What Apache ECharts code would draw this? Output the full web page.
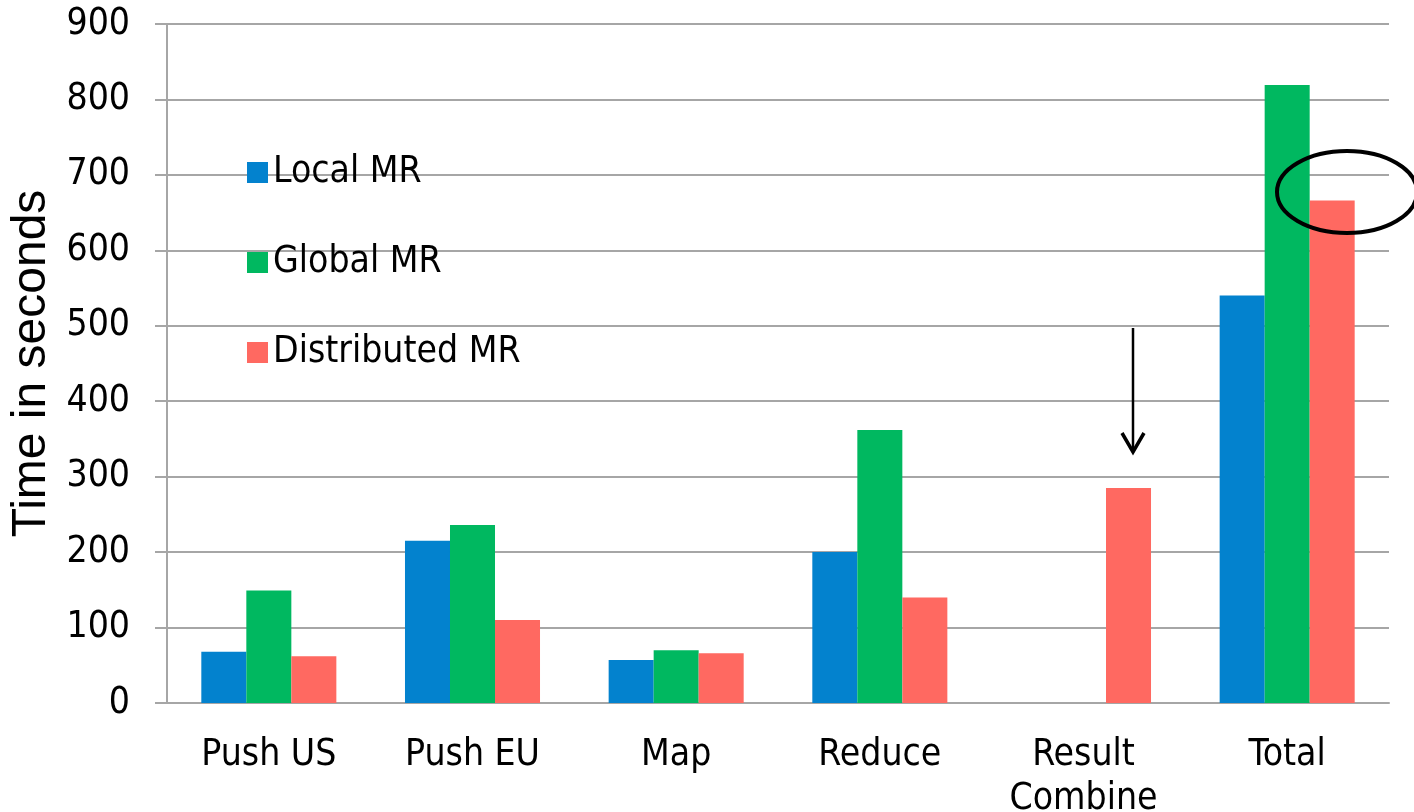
<!DOCTYPE html>
<html>
<head>
<meta charset="utf-8">
<title>Time in seconds by phase</title>
<script src="https://cdn.jsdelivr.net/npm/echarts@6/dist/echarts.min.js"></script>
<style>
  html, body { margin: 0; padding: 0; background: #ffffff; }
  #chart { width: 1414px; height: 812px; }
</style>
</head>
<body>
<div id="chart"></div>
<script>
// Phases on the category axis
const categories = ['Push US', 'Push EU', 'Map', 'Reduce', 'Result\nCombine', 'Total'];

// Seconds spent in each phase, per MapReduce variant
const localMR       = [68, 215, 57, 200, null, 540];
const globalMR      = [149, 236, 70, 362, null, 819];
const distributedMR = [62, 110, 66, 140, 285, 666];

const seriesNames = ['Local MR', 'Global MR', 'Distributed MR'];
const seriesColors = ['#0382CE', '#00B860', '#FF6961'];

const FONT = '"DejaVu Sans Condensed", "DejaVu Sans", Tahoma, sans-serif';

const chart = echarts.init(document.getElementById('chart'), null, { renderer: 'canvas' });

const makeBar = (name, data, color) => ({
  name: name,
  type: 'bar',
  data: data,
  barGap: '0%',
  barCategoryGap: '33.7%',
  itemStyle: { color: color },
  emphasis: { disabled: true },
  animation: false
});

chart.setOption({
  backgroundColor: '#ffffff',
  animation: false,
  grid: { left: 167, right: 25, top: 24, bottom: 109, containLabel: false, outerBoundsMode: 'none' },
  legend: {
    orient: 'vertical',
    left: 242,
    top: 149,
    itemWidth: 21,
    itemHeight: 21,
    itemGap: 53,
    icon: 'rect',
    selectedMode: false,
    data: seriesNames,
    textStyle: { fontFamily: FONT, fontSize: 37, color: '#000000' }
  },
  xAxis: {
    type: 'category',
    data: categories,
    axisLine: { show: true, lineStyle: { color: '#a6a6a6', width: 2 } },
    axisTick: { show: false },
    axisLabel: {
      interval: 0,
      margin: 30,
      fontFamily: FONT,
      fontSize: 37,
      lineHeight: 44,
      color: '#000000'
    }
  },
  yAxis: {
    type: 'value',
    min: 0,
    max: 900,
    interval: 100,
    name: 'Time in seconds',
    nameLocation: 'middle',
    nameRotate: 90,
    nameGap: 109,
    nameTextStyle: { fontFamily: '"Liberation Sans", Arial, sans-serif', fontSize: 48, color: '#000000' },
    axisLine: { show: true, lineStyle: { color: '#a6a6a6', width: 2 } },
    axisTick: { show: true, inside: false, length: 12, lineStyle: { color: '#a6a6a6', width: 2 } },
    splitLine: { show: true, lineStyle: { color: '#a6a6a6', width: 2 } },
    axisLabel: { margin: 37, fontFamily: FONT, fontSize: 37, color: '#000000' }
  },
  series: [
    makeBar(seriesNames[0], localMR, seriesColors[0]),
    makeBar(seriesNames[1], globalMR, seriesColors[1]),
    makeBar(seriesNames[2], distributedMR, seriesColors[2])
  ],
  graphic: [
    // Highlight ring around the Total bars
    {
      type: 'ellipse',
      shape: { cx: 1347, cy: 192, rx: 70, ry: 41 },
      style: { fill: 'none', stroke: '#000000', lineWidth: 4 },
      z: 100
    },
    // Arrow pointing down at the Result Combine bar
    {
      type: 'line',
      shape: { x1: 1133, y1: 328, x2: 1133, y2: 452 },
      style: { stroke: '#000000', lineWidth: 2.5 },
      z: 100
    },
    {
      type: 'polyline',
      shape: { points: [[1122, 433], [1133, 452], [1144, 433]] },
      style: { fill: 'none', stroke: '#000000', lineWidth: 3.5, lineJoin: 'miter' },
      z: 100
    }
  ]
});
</script>
</body>
</html>
